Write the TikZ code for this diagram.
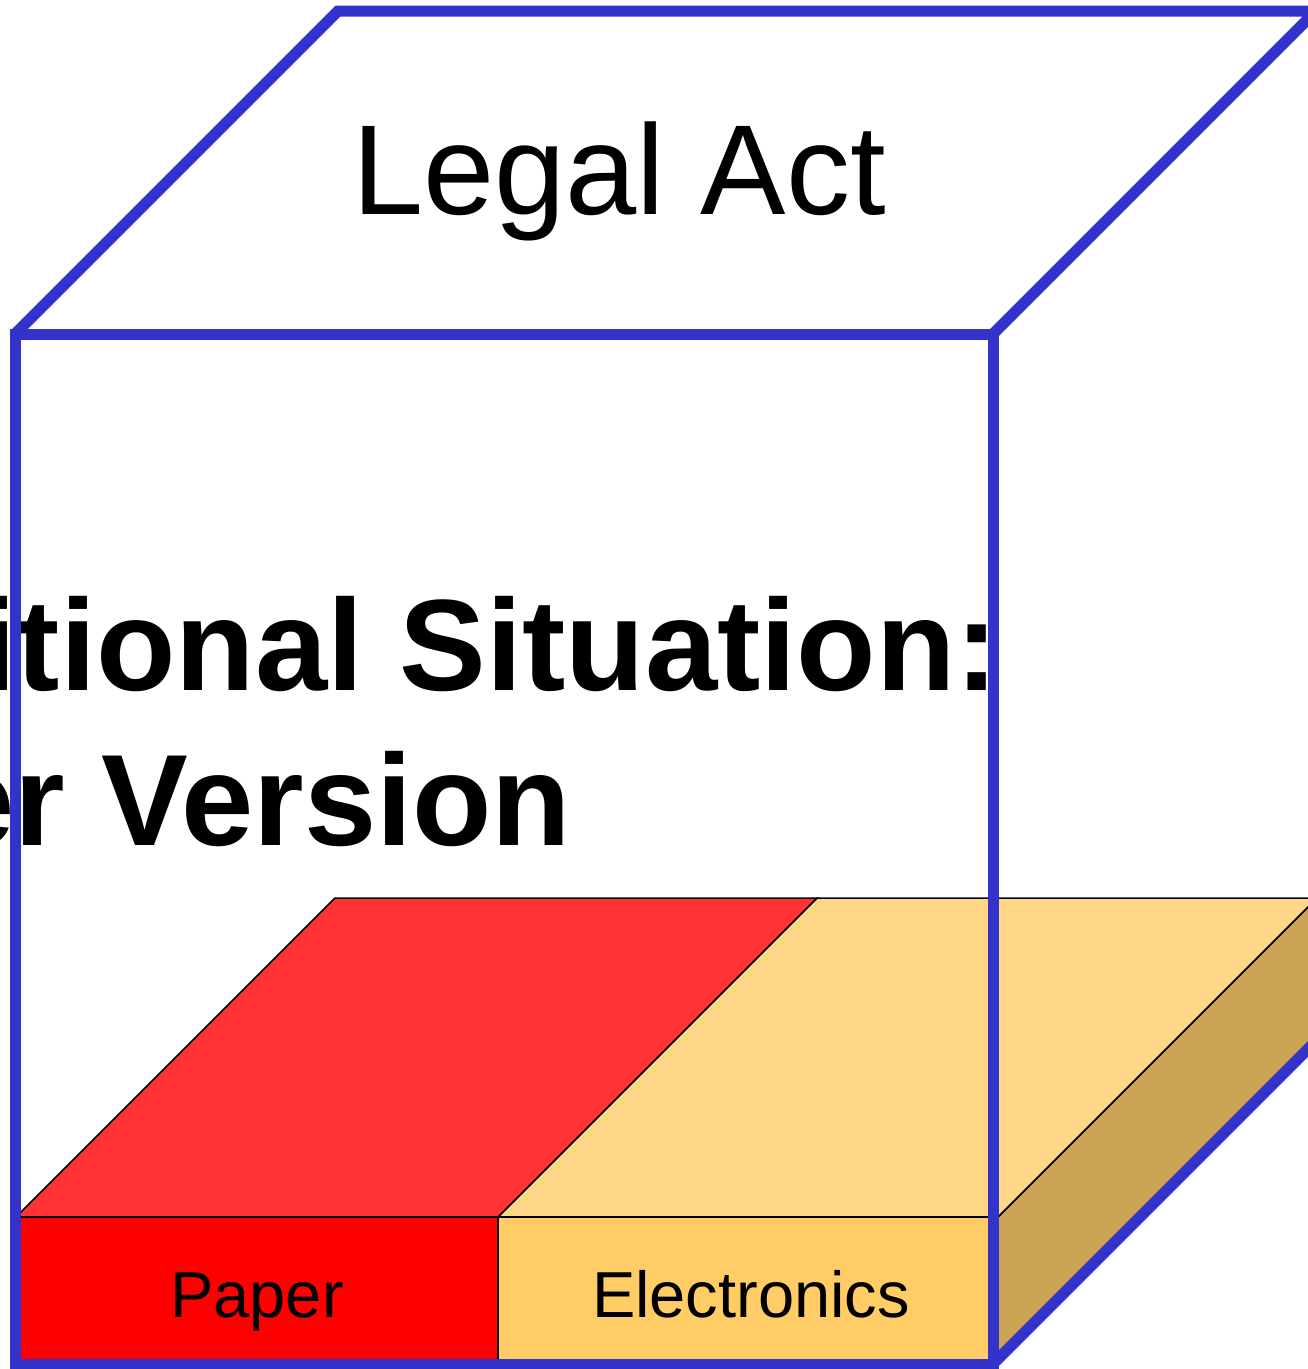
\documentclass[tikz,border=0pt]{standalone}
\usepackage{fontspec}
\setmainfont{Liberation Sans}
\definecolor{cubeblue}{RGB}{51,51,204}
\definecolor{redfront}{RGB}{255,0,0}
\definecolor{redtop}{RGB}{255,51,51}
\definecolor{orfront}{RGB}{255,204,102}
\definecolor{ortop}{RGB}{255,214,133}
\definecolor{orside}{RGB}{204,163,82}
\tikzset{
  slabface/.style={draw=black, line width=1.5pt, line join=miter},
  cubeedge/.style={draw=cubeblue, line width=11pt, line join=miter},
  bigtitle/.style={inner sep=0pt, font=\fontsize{128}{154}\selectfont},
  boldtitle/.style={inner sep=0pt, anchor=base west, font=\fontsize{130}{156}\selectfont\bfseries},
  facelabel/.style={inner sep=0pt, anchor=base, font=\fontsize{65}{78}\selectfont}
}
\begin{document}
\begin{tikzpicture}[x=1pt,y=-1pt]
\useasboundingbox (0,0) rectangle (1308,1369);
\clip (0,0) rectangle (1308,1369);
\fill[white] (0,0) rectangle (1308,1369);
% title texts
\node[bigtitle, anchor=base] (legal) at (619,214) {Legal Act};
\node[boldtitle] (trad) at (-294,690) {Traditional Situation:};
\node[boldtitle] (paperv) at (-296,845) {Paper Version};
% slab
\path[slabface, fill=orside] (998,1217) -- (1317,898) -- (1317,1043) -- (998,1362) -- cycle;
\path[slabface, fill=ortop] (498,1217) -- (817,898) -- (1317,898) -- (998,1217) -- cycle;
\path[slabface, fill=redtop] (16,1217) -- (335,898) -- (817,898) -- (498,1217) -- cycle;
\path[slabface, fill=redfront] (16,1217) rectangle (498,1362);
\path[slabface, fill=orfront] (498,1217) rectangle (998,1362);
\node[facelabel] (paper) at (257,1317) {Paper};
\node[facelabel] (elec) at (751,1317) {Electronics};
% cube edges
\path[cubeedge] (15,334) rectangle (993,1364);
\path[cubeedge] (15,334) -- (338,11) -- (1316,11) -- (993,334);
\path[cubeedge] (993,1364) -- (1316,1041);
\end{tikzpicture}
\end{document}
